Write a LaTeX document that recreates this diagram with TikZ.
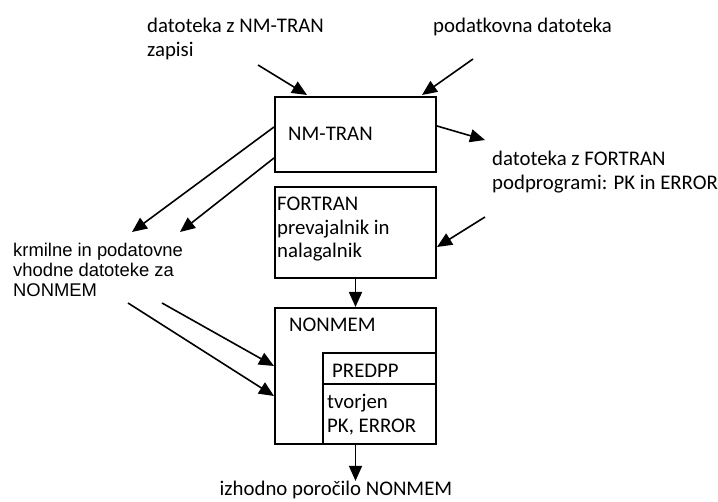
\documentclass[tikz,border=0pt]{standalone}
\usepackage{fontspec}
\setmainfont{Carlito}
\newfontfamily\arialfont{Liberation Sans}
\usetikzlibrary{arrows.meta}

\tikzset{
  blok/.style={rectangle, draw, line width=2pt, inner sep=0pt},
  puscica/.style={line width=1.6pt, -{Triangle[length=15pt,width=13pt]}},
  napis/.style={anchor=west, align=left, inner sep=0pt, font=\fontsize{20.8}{23.5}\selectfont},
}

\begin{document}
\begin{tikzpicture}[x=1pt,y=-1pt]
\useasboundingbox (0,0) rectangle (718,502);
% bloki
\node[blok, minimum width=161pt, minimum height=75pt] (NMTRAN) at (355.5,134.5) {};
\node[blok, minimum width=161pt, minimum height=91pt] (FORTRAN) at (355.5,232.5) {};
\node[blok, minimum width=161pt, minimum height=136pt] (NONMEM) at (355.5,376) {};
\node[blok, minimum width=113pt, minimum height=31pt] (PREDPP) at (379.5,368.5) {};
\node[blok, minimum width=113pt, minimum height=60pt] (PKERR) at (379.5,414) {};
% besedila v blokih
\node[napis] (tNMTRAN) at ([xshift=14pt,yshift=0.5pt]NMTRAN.west) {NM-TRAN};
\node[napis] (tFORTRAN) at ([xshift=3pt,yshift=3pt]FORTRAN.west) {FORTRAN\\prevajalnik in\\nalagalnik};
\node[napis] (tNONMEM) at ([xshift=15pt,yshift=-18pt]NONMEM.north west) {NONMEM};
\node[napis] (tPREDPP) at ([xshift=10pt,yshift=-2pt]PREDPP.west) {PREDPP};
\node[napis] (tPKERR) at ([xshift=5pt,yshift=-0.5pt]PKERR.west) {tvorjen\\PK, ERROR};
% zunanji napisi
\node[napis] (zapisi) at (147,39) {datoteka z NM-TRAN\\zapisi};
\node[napis] (podatki) at (433,27) {podatkovna datoteka};
\node[napis] (podprog) at (492,172) {datoteka z FORTRAN\\podprogrami: PK in ERROR};
\node[napis, font=\arialfont\fontsize{18.4}{20}\selectfont] (krmilne) at (13,270) {krmilne in podatovne\\vhodne datoteke za\\NONMEM};
\node[napis, anchor=center] (porocilo) at (336,490) {izhodno poročilo NONMEM};
% proste tocke
\coordinate (z1) at (258,65);
\coordinate (z2) at (473,59);
\coordinate (z3) at (485,217);
\coordinate (p1) at (485,140);
\coordinate (k1) at (132,232);
\coordinate (k2) at (180,232);
\coordinate (v1) at (128,303);
\coordinate (v2) at (162,303);
% povezave
\draw[puscica] (z1) -- (307,95);
\draw[puscica] (z2) -- (422,95);
\draw[puscica] (NMTRAN.east |- 0,126) -- (p1);
\draw[puscica] (z3) -- (FORTRAN.east |- 0,247);
\draw[puscica] (NMTRAN.west |- 0,127) -- (k1);
\draw[puscica] (NMTRAN.west |- 0,158) -- (k2);
\draw[puscica] (FORTRAN.south) -- (NONMEM.north);
\draw[puscica] (v1) -- (NONMEM.west |- 0,396);
\draw[puscica] (v2) -- (NONMEM.west |- 0,366);
\draw[puscica] (NONMEM.south) -- (NONMEM.south |- porocilo.north);
\end{tikzpicture}
\end{document}
